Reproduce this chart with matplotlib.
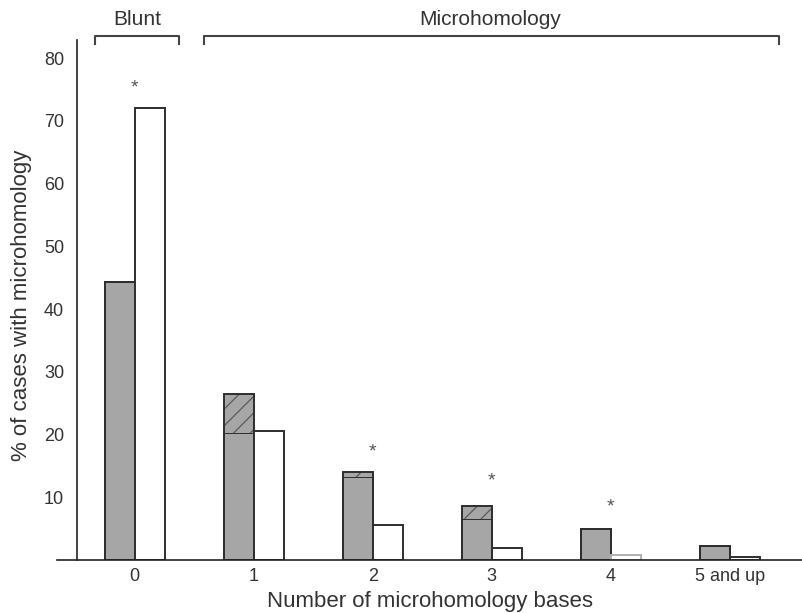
import matplotlib.pyplot as plt
import numpy as np

plt.rcParams['font.family'] = ['Liberation Sans', 'DejaVu Sans']
plt.rcParams['hatch.linewidth'] = 0.9

categories = ['0', '1', '2', '3', '4', '5 and up']
gray_solid = [44.3, 20.3, 13.2, 6.6, 4.9, 2.3]
gray_hatch = [0.0, 6.2, 0.8, 2.0, 0.0, 0.0]
white_vals = [72.1, 20.5, 5.6, 1.9, 0.8, 0.5]
star_groups = [0, 2, 3, 4]
star_y = [75.2, 17.3, 12.6, 8.5]

gray = '#a6a6a6'
edge = '#2e2e2e'
w = 0.252
x = np.arange(len(categories))

fig = plt.figure(figsize=(8.03, 6.13), dpi=100)
ax = fig.add_axes([56.7 / 803, 53 / 613, 1 - 56.7 / 803, 520 / 613])

gray_total = np.array(gray_solid) + np.array(gray_hatch)
ax.bar(x - w / 2, gray_solid, w, color=gray, edgecolor=edge, linewidth=1.4)
ax.bar(x - w / 2, gray_hatch, w, bottom=gray_solid, color=gray, edgecolor='#5a5a5a',
       hatch='//', linewidth=0)
ax.bar(x - w / 2, gray_total, w, facecolor='none', edgecolor=edge, linewidth=1.4)

wedges = [edge, edge, edge, edge, '#b0b0b0', edge]
ax.bar(x + w / 2, white_vals, w, color='white', edgecolor=wedges, linewidth=1.4)

for g, yv in zip(star_groups, star_y):
    ax.text(g, yv, '*', ha='center', va='center', fontsize=14, color='#555555')

ax.set_xlim(-0.654, 5.615)
ax.set_ylim(0, 82.9)
ax.spines['left'].set_position(('data', -0.486))
ax.spines['top'].set_visible(False)
ax.spines['right'].set_visible(False)
for s in ['left', 'bottom']:
    ax.spines[s].set_linewidth(1.2)
    ax.spines[s].set_color('#222222')

ax.set_xticks(x)
ax.set_xticklabels(categories, fontsize=13)
ax.set_yticks(np.arange(10, 81, 10))
ax.tick_params(axis='both', length=0, labelsize=13, colors='#333333')
ax.tick_params(axis='y', pad=9)
ax.tick_params(axis='x', pad=6)
ax.set_xlabel('Number of microhomology bases', fontsize=16, color='#333333', labelpad=4)
fig.text(22 / 803, 1 - 305 / 613, '% of cases with microhomology', rotation=90,
         ha='center', va='center', fontsize=16, color='#333333')

# brackets above the plot
bc = '#444444'
for x0, x1 in [(-0.333, 0.373), (0.583, 5.413)]:
    ax.plot([x0, x0, x1, x1], [82.2, 83.6, 83.6, 82.2], color=bc, lw=1.5, clip_on=False)
ax.text(0.02, 86.1, 'Blunt', ha='center', va='center', fontsize=15, color='#333333')
ax.text(2.99, 86.1, 'Microhomology', ha='center', va='center', fontsize=15, color='#333333')

fig.savefig('out.png', dpi=100)
